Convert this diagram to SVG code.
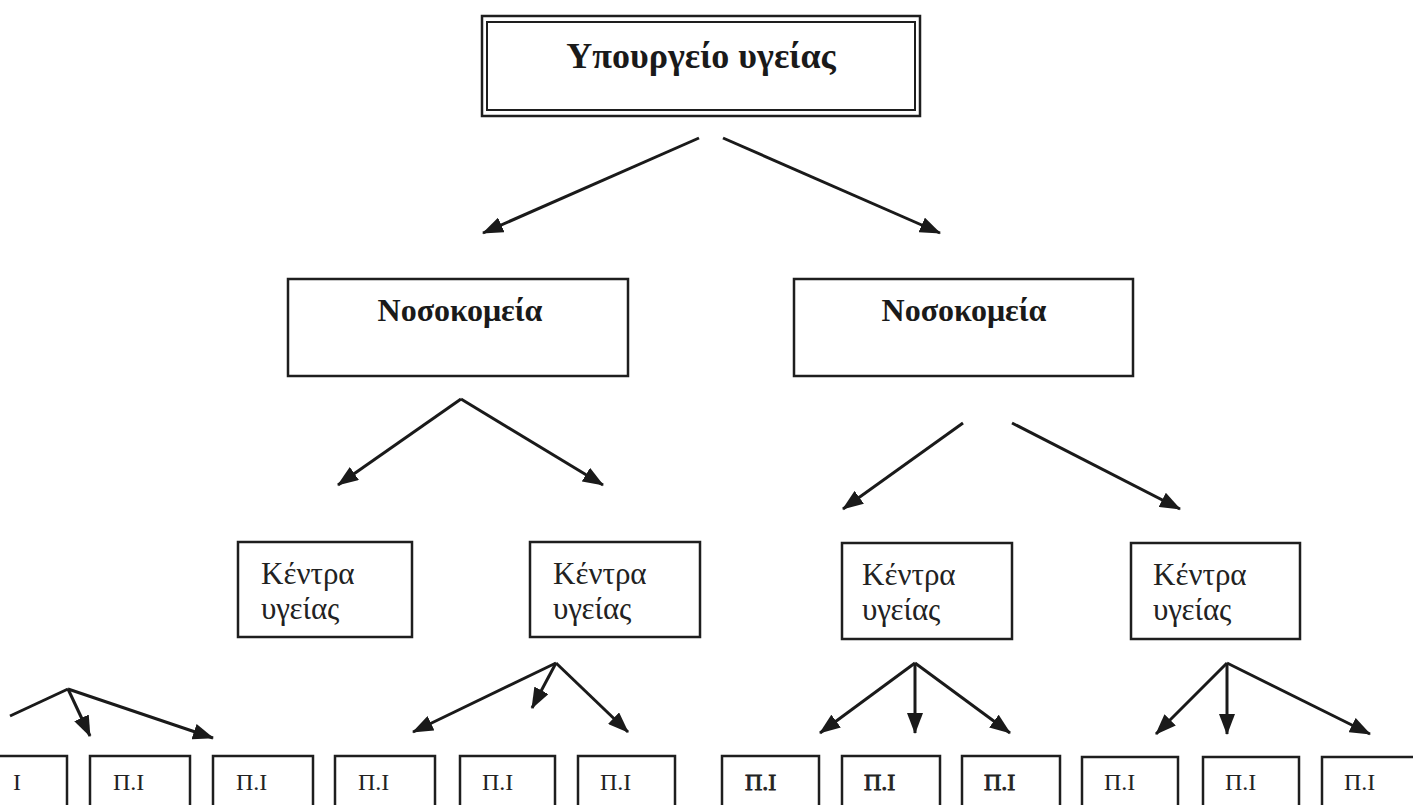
<svg xmlns="http://www.w3.org/2000/svg" width="1413" height="805" viewBox="0 0 1413 805">
<defs>
<marker id="ah" markerUnits="userSpaceOnUse" markerWidth="21" markerHeight="16" refX="20" refY="8" orient="auto" viewBox="0 0 21 16">
<path d="M0,0 L21,8 L0,16 Z" fill="#1a1a1a"/>
</marker>
<style>
.box{fill:#fff;stroke:#1e1e1e;stroke-width:2.5}
.c{stroke:#1a1a1a;stroke-width:3;fill:none}
.a{stroke:#1a1a1a;stroke-width:3;fill:none;marker-end:url(#ah)}
.tb{font-family:"Liberation Serif",serif;font-weight:bold;fill:#1a1a1a;text-anchor:middle}
.tk{font-family:"Liberation Serif",serif;font-size:31px;fill:#222}
.tp{font-family:"Liberation Serif",serif;font-size:24px;fill:#222}
.th{stroke:#222;stroke-width:0.8}
</style>
</defs>
<rect width="1413" height="805" fill="#fff"/>

<g id="connectors">
<line class="a" x1="699" y1="138" x2="483" y2="233"/>
<line class="a" x1="723" y1="138" x2="940" y2="233"/>
<line class="a" x1="461" y1="399" x2="338" y2="485"/>
<line class="a" x1="461" y1="399" x2="603" y2="485"/>
<line class="a" x1="963" y1="423" x2="843" y2="509"/>
<line class="a" x1="1012" y1="423" x2="1180" y2="509"/>
<line class="c" x1="10" y1="716" x2="68" y2="689"/>
<line class="a" x1="68" y1="689" x2="90" y2="736"/>
<line class="a" x1="68" y1="689" x2="213" y2="738"/>
<line class="a" x1="556" y1="663" x2="413" y2="732"/>
<line class="a" x1="556" y1="663" x2="532" y2="708"/>
<line class="a" x1="556" y1="663" x2="628" y2="732"/>
<line class="a" x1="915" y1="663" x2="820" y2="733"/>
<line class="a" x1="915" y1="663" x2="915" y2="733"/>
<line class="a" x1="915" y1="663" x2="1010" y2="733"/>
<line class="a" x1="1227" y1="663" x2="1156" y2="734"/>
<line class="a" x1="1227" y1="663" x2="1227" y2="734"/>
<line class="a" x1="1227" y1="663" x2="1370" y2="734"/>
</g>

<g id="ministry">
<rect x="482" y="16" width="438" height="100" fill="#fff" stroke="#1e1e1e" stroke-width="2.5"/>
<rect x="487" y="22" width="428" height="88" fill="none" stroke="#1e1e1e" stroke-width="2"/>
<text class="tb" x="701" y="68" font-size="36">Υπουργείο υγείας</text>
</g>

<g id="hospital-left">
<rect class="box" x="288" y="279" width="340" height="97"/>
<text class="tb" x="460" y="321" font-size="32">Νοσοκομεία</text>
</g>
<g id="hospital-right">
<rect class="box" x="794" y="279" width="339" height="97"/>
<text class="tb" x="964" y="321" font-size="32">Νοσοκομεία</text>
</g>

<g id="health-center-1">
<rect class="box" x="238" y="542" width="174" height="95"/>
<text class="tk" x="261" y="584">Κέντρα</text>
<text class="tk" x="261" y="619">υγείας</text>
</g>
<g id="health-center-2">
<rect class="box" x="530" y="542" width="170" height="95"/>
<text class="tk" x="553" y="584">Κέντρα</text>
<text class="tk" x="553" y="619">υγείας</text>
</g>
<g id="health-center-3">
<rect class="box" x="842" y="543" width="170" height="96"/>
<text class="tk" x="862" y="585">Κέντρα</text>
<text class="tk" x="862" y="620">υγείας</text>
</g>
<g id="health-center-4">
<rect class="box" x="1131" y="543" width="169" height="96"/>
<text class="tk" x="1153" y="585">Κέντρα</text>
<text class="tk" x="1153" y="620">υγείας</text>
</g>

<g id="pi-0"><rect class="box" x="-33" y="756" width="100" height="60"/><text class="tp" x="13" y="790">Ι</text></g>
<g id="pi-1"><rect class="box" x="90" y="756" width="100" height="60"/><text class="tp" x="113" y="790">Π.Ι</text></g>
<g id="pi-2"><rect class="box" x="213" y="756" width="100" height="60"/><text class="tp" x="236" y="790">Π.Ι</text></g>
<g id="pi-3"><rect class="box" x="335" y="756" width="100" height="60"/><text class="tp" x="358" y="790">Π.Ι</text></g>
<g id="pi-4"><rect class="box" x="460" y="756" width="95" height="60"/><text class="tp" x="482" y="790">Π.Ι</text></g>
<g id="pi-5"><rect class="box" x="578" y="756" width="97" height="60"/><text class="tp" x="600" y="790">Π.Ι</text></g>
<g id="pi-6"><rect class="box" x="722" y="756" width="97" height="60"/><text class="tp th" x="745" y="790">Π.Ι</text></g>
<g id="pi-7"><rect class="box" x="842" y="756" width="98" height="60"/><text class="tp th" x="864" y="790">Π.Ι</text></g>
<g id="pi-8"><rect class="box" x="962" y="756" width="98" height="60"/><text class="tp th" x="984" y="790">Π.Ι</text></g>
<g id="pi-9"><rect class="box" x="1082" y="757" width="96" height="60"/><text class="tp" x="1104" y="790">Π.Ι</text></g>
<g id="pi-10"><rect class="box" x="1203" y="757" width="96" height="60"/><text class="tp" x="1225" y="790">Π.Ι</text></g>
<g id="pi-11"><rect class="box" x="1322" y="757" width="100" height="60"/><text class="tp" x="1344" y="790">Π.Ι</text></g>
</svg>
